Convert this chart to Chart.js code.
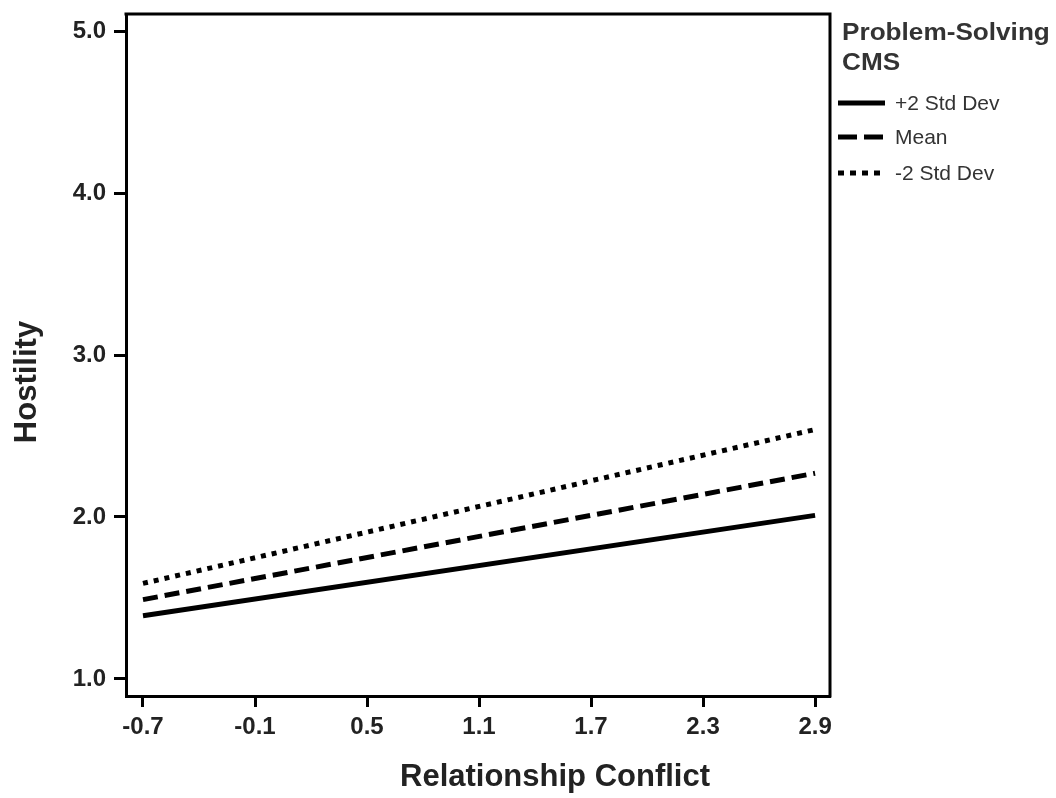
<!DOCTYPE html>
<html>
<head>
<meta charset="utf-8">
<script src="https://cdn.jsdelivr.net/npm/chart.js@4"></script>
<style>
html,body{margin:0;padding:0;background:#fff;}
#wrap{width:1056px;height:798px;position:relative;}
</style>
</head>
<body>
<div id="wrap"><canvas id="c" width="1056" height="798"></canvas></div>
<script>
// ---- data ----
const xValues = [-0.7, 2.9];
const plus2SD = [1.39, 2.01];
const meanVals = [1.49, 2.27];
const minus2SD = [1.59, 2.54];
const seriesLabels = ['+2 Std Dev', 'Mean', '-2 Std Dev'];
const xTicks = [-0.7, -0.1, 0.5, 1.1, 1.7, 2.3, 2.9];
const yTicks = [1.0, 2.0, 3.0, 4.0, 5.0];
const legendTitle = ['Problem-Solving', 'CMS'];
const xTitle = 'Relationship Conflict';
const yTitle = 'Hostility';

const FONT = '"Liberation Sans", Arial, sans-serif';
const dashes = [[], [15, 7], [5, 6]];
const seriesVals = [plus2SD, meanVals, minus2SD];

const datasets = seriesVals.map((vals, i) => ({
  label: seriesLabels[i],
  data: xValues.map((x, j) => ({x: x, y: vals[j]})),
  borderColor: '#000',
  borderWidth: 5,
  borderDash: dashes[i],
  borderCapStyle: 'butt',
  pointRadius: 0,
  fill: false,
  tension: 0
}));

const framePlugin = {
  id: 'frame',
  afterDraw(chart) {
    const ctx = chart.ctx;
    const a = chart.chartArea;
    ctx.save();
    ctx.strokeStyle = '#000';
    ctx.lineWidth = 3;
    ctx.beginPath();
    ctx.moveTo(a.left - 1.5, a.top);
    ctx.lineTo(a.right, a.top);
    ctx.lineTo(a.right, a.bottom + 1.5);
    ctx.stroke();

    // axis titles
    ctx.fillStyle = '#222';
    ctx.font = 'bold 31px ' + FONT;
    ctx.textAlign = 'center';
    ctx.textBaseline = 'middle';
    ctx.fillText(xTitle, 555, 777);
    ctx.save();
    ctx.translate(27, 382);
    ctx.rotate(-Math.PI / 2);
    ctx.fillText(yTitle, 0, 0);
    ctx.restore();

    // legend
    ctx.textAlign = 'left';
    ctx.textBaseline = 'alphabetic';
    ctx.font = 'bold 24px ' + FONT;
    ctx.fillStyle = '#333';
    ctx.save();
    ctx.translate(842, 0);
    ctx.scale(1.09, 1);
    ctx.fillText(legendTitle[0], 0, 40);
    ctx.fillText(legendTitle[1], 0, 70);
    ctx.restore();
    ctx.font = '21px ' + FONT;
    const ys = [103, 137, 173];
    const legDash = [[], [19, 7], [6, 6]];
    chart.data.datasets.forEach((ds, i) => {
      ctx.save();
      ctx.strokeStyle = '#000';
      ctx.lineWidth = 5;
      ctx.setLineDash(legDash[i]);
      ctx.beginPath();
      ctx.moveTo(838, ys[i]);
      ctx.lineTo(885, ys[i]);
      ctx.stroke();
      ctx.restore();
      ctx.fillStyle = '#333';
      ctx.textBaseline = 'middle';
      ctx.fillText(ds.label, 895, ys[i] + 1);
    });
    ctx.restore();
  }
};

new Chart(document.getElementById('c'), {
  type: 'line',
  data: {datasets: datasets},
  options: {
    responsive: false,
    animation: false,
    devicePixelRatio: 1,
    layout: {padding: {top: 14, right: 226, left: 0, bottom: 0}},
    plugins: {legend: {display: false}, tooltip: {enabled: false}},
    scales: {
      x: {
        type: 'linear',
        min: -0.791,
        max: 2.98,
        afterBuildTicks: s => { s.ticks = xTicks.map(v => ({value: v})); },
        afterFit: s => { s.height = 102; s.paddingLeft = 0; s.paddingRight = 0; },
        grid: {display: true, drawOnChartArea: false, drawTicks: true, tickLength: 11, tickWidth: 3, tickColor: '#000'},
        border: {display: true, width: 3, color: '#000'},
        ticks: {
          autoSkip: false, maxRotation: 0, padding: 6,
          color: '#222',
          font: {family: FONT, size: 24, weight: 'bold'},
          callback: v => Number(v).toFixed(1)
        }
      },
      y: {
        type: 'linear',
        min: 0.895,
        max: 5.105,
        afterBuildTicks: s => { s.ticks = yTicks.map(v => ({value: v})); },
        afterFit: s => { s.width = 126; s.paddingTop = 0; s.paddingBottom = 0; },
        grid: {display: true, drawOnChartArea: false, drawTicks: true, tickLength: 12, tickWidth: 3, tickColor: '#000'},
        border: {display: true, width: 3, color: '#000'},
        ticks: {
          padding: 8,
          color: '#222',
          font: {family: FONT, size: 24, weight: 'bold'},
          callback: v => Number(v).toFixed(1)
        }
      }
    }
  },
  plugins: [framePlugin]
});
</script>
</body>
</html>
